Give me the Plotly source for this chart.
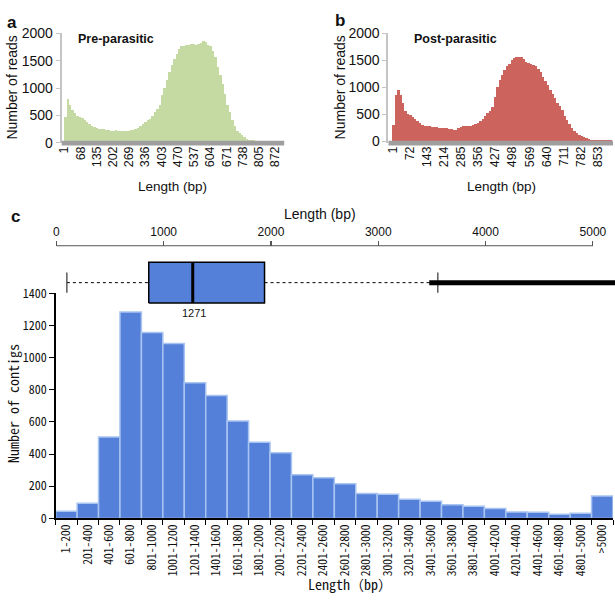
import plotly.graph_objects as go

W, H = 615, 605


def X(p):
    return p / W


def Y(p):
    return 1 - p / H


# ---------------- data ----------------
# panels a/b: read counts in 10-bp length bins (bin start values)
bin_start = list(range(1, 911, 10))
pre_counts = [
    470, 800, 700, 600, 540, 500, 475, 450, 410, 380,
    345, 315, 290, 270, 260, 250, 245, 235, 228, 225,
    222, 230, 225, 222, 220, 222, 225, 230, 238, 249,
    275, 300, 350, 380, 410, 440, 490, 560, 620, 700,
    880, 1000, 1150, 1300, 1430, 1530, 1620, 1710, 1760, 1775,
    1780, 1790, 1800, 1805, 1795, 1810, 1830, 1860, 1840, 1790,
    1760, 1680, 1560, 1380, 1230, 1080, 900, 700, 560, 420,
    300, 220, 180, 140, 105, 75, 60, 55, 45, 40,
    35, 35, 35, 35, 35, 35, 35, 35, 35, 35,
    35,
]
post_counts = [
    300, 860, 960, 860, 720, 560, 500, 480, 455, 420,
    380, 335, 305, 290, 282, 278, 272, 268, 262, 258,
    252, 246, 240, 232, 225, 215, 220, 250, 270, 280,
    285, 290, 295, 310, 325, 335, 370, 420, 470, 520,
    560, 640, 820, 1000, 1130, 1230, 1330, 1400, 1440, 1500,
    1540, 1560, 1570, 1560, 1520, 1470, 1450, 1430, 1410, 1390,
    1340, 1280, 1200, 1120, 1050, 960, 880, 810, 720, 650,
    580, 470, 400, 320, 250, 200, 160, 120, 100, 75,
    60, 45, 35, 28, 28, 28, 28, 28, 28, 28,
    28,
]
pre_ticks = [1, 68, 135, 202, 269, 336, 403, 470, 537, 604, 671, 738, 805, 872]
post_ticks = [1, 72, 143, 214, 285, 356, 427, 498, 569, 640, 711, 782, 853]
read_ticks = [0, 500, 1000, 1500, 2000]

# panel c: contig length histogram
contig_bins = [
    "1-200", "201-400", "401-600", "601-800", "801-1000", "1001-1200",
    "1201-1400", "1401-1600", "1601-1800", "1801-2000", "2001-2200",
    "2201-2400", "2401-2600", "2601-2800", "2801-3000", "3001-3200",
    "3201-3400", "3401-3600", "3601-3800", "3801-4000", "4001-4200",
    "4201-4400", "4401-4600", "4601-4800", "4801-5000", ">5000",
]
contig_counts = [
    44, 95, 507, 1284, 1157, 1088, 843, 765, 606, 473, 408, 272, 253,
    215, 155, 151, 119, 107, 85, 76, 62, 40, 38, 26, 32, 139,
]
count_ticks = [0, 200, 400, 600, 800, 1000, 1200, 1400]

# panel c: box plot statistics (bp)
box_min = 98
box_q1 = 861
box_median = 1271
box_q3 = 1940
box_max = 3555
outlier_lo = 3475
outlier_hi = 5400
box_axis_ticks = [0, 1000, 2000, 3000, 4000, 5000]

# ---------------- styles ----------------
GREEN = "#c5d9a3"
RED = "#cd635d"
BLUE = "#5580d9"
BLUE_EDGE = "#a8c4f0"
SANS = "Liberation Sans, Arial, sans-serif"
NARROW = "Liberation Sans Narrow, Arial Narrow, Liberation Sans, sans-serif"
MONO = "Noto Sans Mono CJK JP, Noto Sans CJK JP, DejaVu Sans Mono, monospace"

fig = go.Figure()

centers = [s + 4.5 for s in bin_start]
fig.add_trace(go.Bar(x=centers, y=pre_counts, width=10,
                     marker=dict(color=GREEN, line=dict(width=0)),
                     xaxis="x", yaxis="y", showlegend=False))
fig.add_trace(go.Bar(x=centers, y=post_counts, width=10,
                     marker=dict(color=RED, line=dict(width=0)),
                     xaxis="x2", yaxis="y2", showlegend=False))

# box plot drawn from its statistics
line_k = dict(mode="lines", xaxis="x3", yaxis="y3", showlegend=False, hoverinfo="skip")
fig.add_trace(go.Scatter(x=[box_min, box_q1], y=[0, 0],
                         line=dict(color="black", width=1, dash="3px,3px"), **line_k))
fig.add_trace(go.Scatter(x=[box_q3, box_max], y=[0, 0],
                         line=dict(color="black", width=1, dash="3px,3px"), **line_k))
fig.add_trace(go.Scatter(x=[box_min, box_min], y=[-0.5, 0.5],
                         line=dict(color="#333", width=1.2), **line_k))
fig.add_trace(go.Scatter(x=[box_max, box_max], y=[-0.5, 0.5],
                         line=dict(color="#333", width=1.2), **line_k))
fig.add_trace(go.Scatter(x=[outlier_lo, outlier_hi], y=[0, 0],
                         line=dict(color="black", width=5), **line_k))
fig.add_trace(go.Scatter(x=[box_q1, box_q3, box_q3, box_q1, box_q1],
                         y=[-1, -1, 1, 1, -1], fill="toself", fillcolor=BLUE,
                         line=dict(color="black", width=1.5), **line_k))
fig.add_trace(go.Scatter(x=[box_median, box_median], y=[-1, 1],
                         line=dict(color="black", width=3), **line_k))

fig.add_trace(go.Bar(x=contig_bins, y=contig_counts, width=1,
                     marker=dict(color=BLUE, line=dict(color=BLUE_EDGE, width=1.5)),
                     xaxis="x4", yaxis="y4", showlegend=False))

common_y = dict(showgrid=False, zeroline=False, showline=True, linecolor="#c4c4c4",
                linewidth=2, ticks="outside", ticklen=4, tickcolor="#c4c4c4",
                tickvals=read_ticks, tickfont=dict(family=SANS, size=14, color="#111"))
common_x = dict(showgrid=False, zeroline=False, showline=False, ticks="",
                tickangle=-90, tickfont=dict(family=SANS, size=12.5, color="#111"),
                ticklabelstandoff=0)

box_unit = 21.0  # px per y3 unit
y3_top, y3_bot, y3_mid = 256, 306, 281

fig.update_layout(
    width=W, height=H, margin=dict(l=0, r=0, t=0, b=0),
    paper_bgcolor="white", plot_bgcolor="rgba(0,0,0,0)", bargap=0,
    xaxis=dict(domain=[X(58), X(282)], range=[-10, 909], anchor="y",
               tickvals=pre_ticks, ticktext=[str(v) for v in pre_ticks], **common_x),
    yaxis=dict(domain=[Y(137), Y(24)], range=[0, 2000], anchor="x", **common_y),
    xaxis2=dict(domain=[X(387), X(613)], range=[-15.5, 915], anchor="y2",
                tickvals=post_ticks, ticktext=[str(v) for v in post_ticks], **common_x),
    yaxis2=dict(domain=[Y(137), Y(24)], range=[-27, 2000], anchor="x2", **common_y),
    xaxis3=dict(domain=[X(52.7), 1.0], range=[0, 5206], anchor="free",
                position=Y(243), side="top", showgrid=False, zeroline=False,
                showline=False, ticks="outside", ticklen=5, tickcolor="#555",
                tickwidth=1.2, tickvals=box_axis_ticks,
                tickfont=dict(family=NARROW, size=12, color="#111")),
    yaxis3=dict(domain=[Y(y3_bot), Y(y3_top)],
                range=[-(y3_bot - y3_mid) / box_unit, (y3_mid - y3_top) / box_unit],
                anchor="x3", visible=False),
    xaxis4=dict(domain=[X(52), X(613)], type="category", range=[-0.5, 25.5],
                anchor="y4", showgrid=False, zeroline=False, showline=True,
                linecolor="black", linewidth=1.5, ticks="outside", ticklen=5,
                tickcolor="black", tickson="boundaries", tickangle=-90,
                categoryorder="array", categoryarray=contig_bins,
                tickfont=dict(family=MONO, size=11.5, color="#111")),
    yaxis4=dict(domain=[Y(524), Y(292)], range=[0, 1400], anchor="x4",
                showgrid=False, zeroline=False, showline=True, linecolor="black",
                linewidth=1.5, ticks="outside", ticklen=5, tickcolor="black",
                tickvals=count_ticks, tickfont=dict(family=MONO, size=12, color="#111")),
)

# thick grey baselines of panels a and b
for xr in ["x domain", "x2 domain"]:
    fig.add_shape(type="rect", xref=xr, yref="paper", x0=0, x1=1,
                  y0=Y(139.6), y1=Y(134.8), fillcolor="#9e9e9e", line=dict(width=0),
                  layer="above")
# top axis line of the box plot
fig.add_shape(type="line", xref="x3", yref="paper", x0=0, x1=5000,
              y0=Y(243), y1=Y(243), line=dict(color="#555", width=1.2))


def ann(text, px, py, size, family=SANS, angle=0, color="#111", xanchor="center"):
    fig.add_annotation(text=text, x=X(px), y=Y(py), xref="paper", yref="paper",
                       showarrow=False, textangle=angle, xanchor=xanchor, yanchor="middle",
                       font=dict(family=family, size=size, color=color))


ann("<b>a</b>", 8, 13, 17)
ann("<b>b</b>", 338, 11, 17)
ann("<b>c</b>", 12, 213, 17)
ann("<b>Pre-parasitic</b>", 113, 30, 12.5)
ann("<b>Post-parasitic</b>", 454, 30, 12.5)
ann("Number of reads", 8, 80, 14, angle=-90)
ann("Number of reads", 338, 80, 14, angle=-90)
ann("Length (bp)", 170, 182, 13.5)
ann("Length (bp)", 501, 182, 13.5)
ann("Length (bp)", 318, 210, 14)
ann("1271", 191, 312, 11)
ann("Number of contigs", 9, 405, 14, family=MONO, angle=-90)
ann("Length（bp）", 348, 592, 14, family=MONO)

fig.write_html(
    "out.html",
    config={"displayModeBar": False, "staticPlot": True},
    post_script="document.body.style.margin='0';document.body.style.overflow='hidden';",
)
